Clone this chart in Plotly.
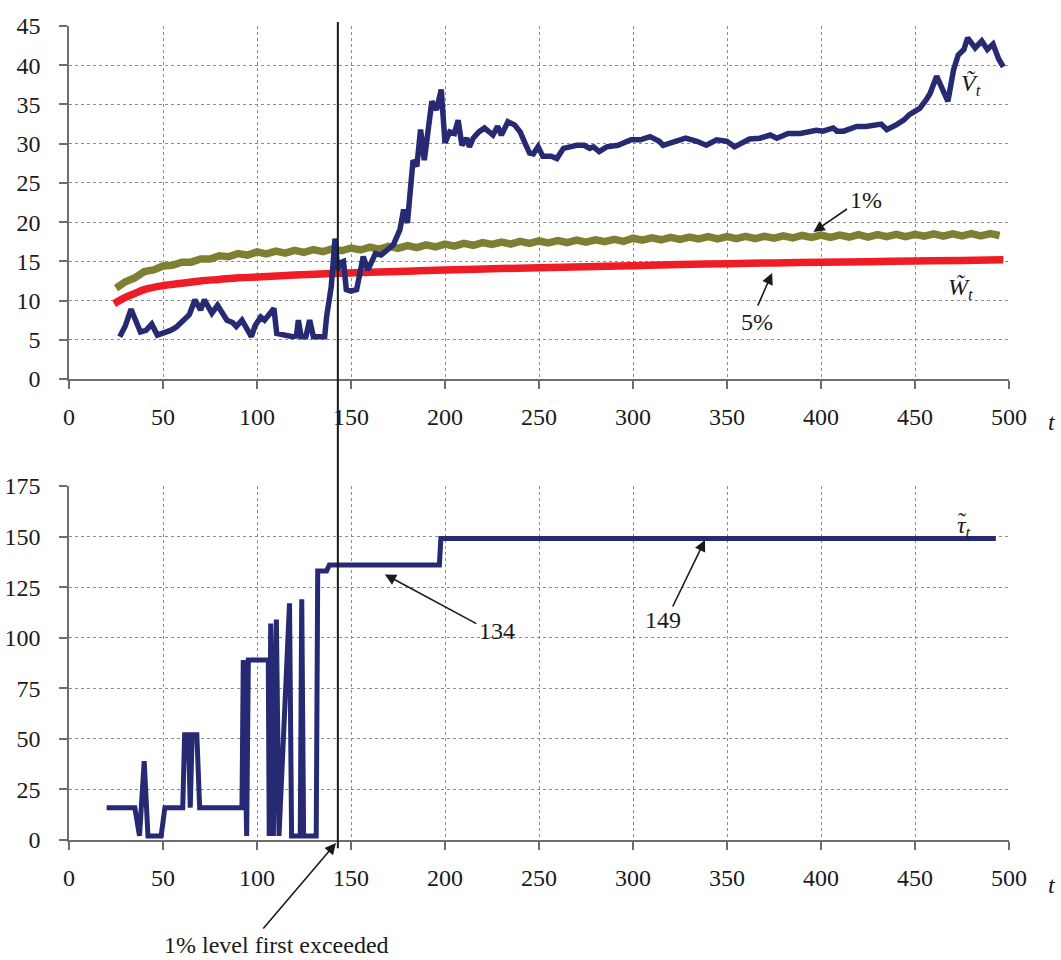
import plotly.graph_objects as go

# ---------------- data ----------------
# Top panel: V~_t (blue)
v_t = [27, 30, 33, 35, 38, 41, 44, 47, 50, 54, 57, 61, 64, 67, 70, 72, 76, 79, 82, 84, 87, 89, 92, 95, 97, 99,
       102, 104, 106, 109, 110.5, 115, 119, 121, 122, 123.5, 126, 128, 130, 133, 136, 137, 139.5, 141.5, 143, 144,
       146, 147.5, 150, 153, 156.5, 159, 163, 166, 169, 172.5, 176, 178, 180, 181.5, 183, 185, 187, 189, 190.5,
       193, 195.5, 198, 200, 202.5, 205, 207, 209, 211.5, 213, 215, 218, 221, 225.5, 228, 230, 233.5, 237, 240,
       242.5, 245, 247, 249.5, 252, 256.5, 259.5, 263, 266.5, 270, 274, 277, 279, 282, 286, 292, 299, 304, 309,
       314, 316, 322, 328, 334, 339, 344.5, 350, 354, 362, 367.5, 373, 376.5, 382.5, 389, 397.5, 401, 406.5,
       408.5, 412, 419, 424, 432, 435, 440, 444, 447, 452.5, 456, 458, 461.5, 464, 467.5, 470.5, 473, 476, 478,
       482, 485.5, 488.5, 491.5, 494.5, 497]
v_val = [5.4, 6.8, 8.9, 7.8, 6.0, 6.2, 7.0, 5.6, 5.8, 6.2, 6.6, 7.5, 8.2, 10.1, 8.8, 10.1, 8.4, 9.4, 8.2, 7.5,
         7.2, 6.7, 7.5, 6.2, 5.4, 6.8, 7.9, 7.5, 8.0, 9.0, 5.8, 5.5, 5.4, 5.5, 7.5, 5.4, 5.4, 7.5, 5.4, 5.4, 5.4,
         7.9, 11.8, 17.9, 13.9, 14.8, 15.0, 11.4, 11.2, 11.4, 15.6, 13.9, 16.0, 15.8, 16.5, 17.1, 19.0, 21.6,
         19.9, 23.7, 27.9, 27.1, 31.8, 27.9, 31.3, 35.4, 34.3, 36.9, 30.1, 31.5, 31.3, 33.0, 29.8, 30.7, 29.6,
         30.7, 31.5, 32.0, 31.1, 32.2, 31.1, 32.8, 32.4, 31.5, 30.1, 28.8, 28.7, 29.6, 28.4, 28.4, 28.1, 29.4,
         29.6, 29.8, 29.8, 29.4, 29.6, 29.0, 29.6, 29.8, 30.5, 30.5, 30.9, 30.3, 29.8, 30.3, 30.7, 30.3, 29.8,
         30.5, 30.3, 29.6, 30.6, 30.7, 31.1, 30.7, 31.3, 31.3, 31.7, 31.6, 32.0, 31.6, 31.6, 32.2, 32.2, 32.5,
         31.8, 32.4, 33.0, 33.7, 34.5, 35.6, 36.4, 38.6, 37.3, 35.4, 39.4, 41.3, 42.0, 43.5, 42.2, 43.1, 42.0,
         42.7, 40.8, 39.8]

# Top panel: 1% critical level (olive) sampled every 5 steps from t=25
one_pct_t = list(range(25, 500, 5))
one_pct_val = [11.6, 12.4, 12.9, 13.7, 13.9, 14.4, 14.5, 14.9, 14.9, 15.3, 15.3, 15.7, 15.6, 16.0, 15.8,
               16.2, 15.95, 16.3, 16.05, 16.4, 16.15, 16.5, 16.25, 16.6, 16.35, 16.7, 16.45, 16.8, 16.55,
               16.9, 16.65, 17.0, 16.75, 17.1, 16.85, 17.2, 16.95, 17.3, 17.05, 17.4, 17.15, 17.45, 17.2,
               17.55, 17.3, 17.6, 17.35, 17.65, 17.4, 17.7, 17.45, 17.75, 17.5, 17.8, 17.55, 17.95, 17.7,
               18.0, 17.75, 18.05, 17.8, 18.1, 17.85, 18.15, 17.85, 18.15, 17.9, 18.2, 17.9, 18.2, 17.95,
               18.25, 18.0, 18.3, 18.05, 18.35, 18.05, 18.35, 18.1, 18.4, 18.1, 18.4, 18.15, 18.45, 18.15,
               18.45, 18.2, 18.5, 18.2, 18.5, 18.25, 18.55, 18.25, 18.55, 18.3]

# Top panel: 5% critical level W~_t (red)
five_pct_t = [24, 30, 35, 40, 50, 60, 70, 80, 90, 100, 120, 140, 160, 180, 200, 225, 250, 275, 300, 325,
              350, 375, 400, 425, 450, 475, 497]
five_pct_val = [9.6, 10.4, 10.9, 11.4, 11.9, 12.2, 12.5, 12.7, 12.9, 13.0, 13.25, 13.45, 13.6, 13.75, 13.9,
                14.05, 14.2, 14.3, 14.45, 14.6, 14.7, 14.8, 14.9, 14.95, 15.05, 15.1, 15.2]

# Bottom panel: tau~_t
tau_t = [20, 35, 37.5, 40, 42, 49, 51, 60.5, 61.5, 63.5, 64.5, 65.5, 68, 69.5, 92, 92.7, 94.5, 95.4, 106,
         106.5, 107.3, 108.7, 110.3, 111.7, 117.3, 118.4, 123, 123.8, 124.8, 131.5, 132.3, 137, 138.5, 197,
         197.8, 493]
tau_val = [16, 16, 2, 39, 2, 2, 16, 16, 52, 52, 16, 52, 52, 16, 16, 89, 2, 89, 89, 2, 107, 2, 109, 2, 117, 2,
           2, 119, 2, 2, 133, 133, 136, 136, 149, 149]

first_exceed_t = 143

x_ticks = list(range(0, 501, 50))
y1_ticks = list(range(0, 46, 5))
y2_ticks = list(range(0, 176, 25))

# ---------------- figure ----------------
FONT = "Liberation Serif"
BLUE = "#262A73"
OLIVE = "#7F7F33"
RED = "#EE1D25"

fig = go.Figure()
fig.add_trace(go.Scatter(x=one_pct_t, y=one_pct_val, mode="lines", line=dict(color=OLIVE, width=7.5),
                         xaxis="x", yaxis="y", hoverinfo="skip"))
fig.add_trace(go.Scatter(x=five_pct_t, y=five_pct_val, mode="lines", line=dict(color=RED, width=7.5, shape="spline"),
                         xaxis="x", yaxis="y", hoverinfo="skip"))
fig.add_trace(go.Scatter(x=v_t, y=v_val, mode="lines", line=dict(color=BLUE, width=5.5),
                         xaxis="x", yaxis="y", hoverinfo="skip"))
fig.add_trace(go.Scatter(x=tau_t, y=tau_val, mode="lines", line=dict(color=BLUE, width=5),
                         xaxis="x2", yaxis="y2", hoverinfo="skip"))

axis_common = dict(
    showgrid=True, gridcolor="#8c8c8c", griddash="dot", gridwidth=1,
    showline=True, linecolor="#6e6e6e", linewidth=1.5,
    ticks="outside", ticklen=8, tickcolor="#6e6e6e", tickwidth=1.5,
    zeroline=False, automargin=False,
    tickfont=dict(family=FONT, size=24, color="#1a1a1a"),
)

top_bottom = 0.5663
bot_top = 0.4349

fig.update_layout(
    width=1061, height=960,
    margin=dict(l=69, r=52, t=26, b=120, autoexpand=False),
    paper_bgcolor="white", plot_bgcolor="white",
    showlegend=False, hovermode=False,
    font=dict(family=FONT, size=24, color="#1a1a1a"),
    xaxis=dict(domain=[0, 1], range=[0, 500], tickvals=x_ticks, anchor="y", ticklabelstandoff=7, **axis_common),
    yaxis=dict(domain=[top_bottom, 1], range=[0, 45], tickvals=y1_ticks, anchor="x", ticklabelstandoff=14, **axis_common),
    xaxis2=dict(domain=[0, 1], range=[0, 500], tickvals=x_ticks, anchor="y2", ticklabelstandoff=7, **axis_common),
    yaxis2=dict(domain=[0, bot_top], range=[0, 175], tickvals=y2_ticks, anchor="x2", ticklabelstandoff=14, **axis_common),
)

# vertical line marking first exceedance
fig.add_shape(type="line", xref="x", yref="paper", x0=first_exceed_t, x1=first_exceed_t, y0=-0.01, y1=1.005,
              line=dict(color="#1a1a1a", width=2), layer="above")

txt = dict(family=FONT, size=24, color="#1a1a1a")
arrow = dict(showarrow=True, arrowhead=2, arrowsize=1.4, arrowwidth=1.6, arrowcolor="#1a1a1a", text="",
             axref="pixel", ayref="pixel")
lab = dict(showarrow=False, font=txt, xanchor="center", yanchor="middle")

# pixel -> paper helpers (plot area spans x 69..1009, y 26..840)
def px_x(px):
    return (px - 69) / 940.0

def px_y(py):
    return (840 - py) / 814.0

annots = [
    # arrows (head at data point, tail offset in pixels)
    dict(x=396, y=18.75, xref="x", yref="y", ax=35, ay=-24, **arrow),
    dict(x=374, y=13.5, xref="x", yref="y", ax=-15, ay=34, **arrow),
    dict(x=168, y=131.3, xref="x2", yref="y2", ax=93, ay=50, **arrow),
    dict(x=338.3, y=148.3, xref="x2", yref="y2", ax=-33, ay=68, **arrow),
    dict(x=px_x(336), y=px_y(843), xref="paper", yref="paper", ax=-74, ay=87, **arrow),
    # texts
    dict(x=424, y=22.8, xref="x", yref="y", text="1%", **lab),
    dict(x=366, y=7.3, xref="x", yref="y", text="5%", **lab),
    dict(x=227.7, y=103.5, xref="x2", yref="y2", text="134", **lab),
    dict(x=316, y=108.7, xref="x2", yref="y2", text="149", **lab),
    dict(x=px_x(276), y=px_y(945), xref="paper", yref="paper", text="1% level first exceeded", **lab),
    dict(x=480, y=37.5, xref="x", yref="y", text="<i>\u1E7C<sub>t</sub></i>", **lab),
    dict(x=474, y=11.5, xref="x", yref="y", text="<i>W\u0303<sub>t</sub></i>", **lab),
    dict(x=px_x(964), y=px_y(527), xref="paper", yref="paper", text="<i>\u03C4<sub>t</sub></i>", **lab),
    dict(x=px_x(962), y=px_y(521), xref="paper", yref="paper", text="\u02DC", **lab),
    dict(x=px_x(1052), y=px_y(422), xref="paper", yref="paper", text="<i>t</i>", **lab),
    dict(x=px_x(1052), y=px_y(885), xref="paper", yref="paper", text="<i>t</i>", **lab),
]
fig.update_layout(annotations=annots)

fig.write_html("out.html", config={"displayModeBar": False},
               post_script="document.body.style.margin='0px';document.body.style.overflow='hidden';")
